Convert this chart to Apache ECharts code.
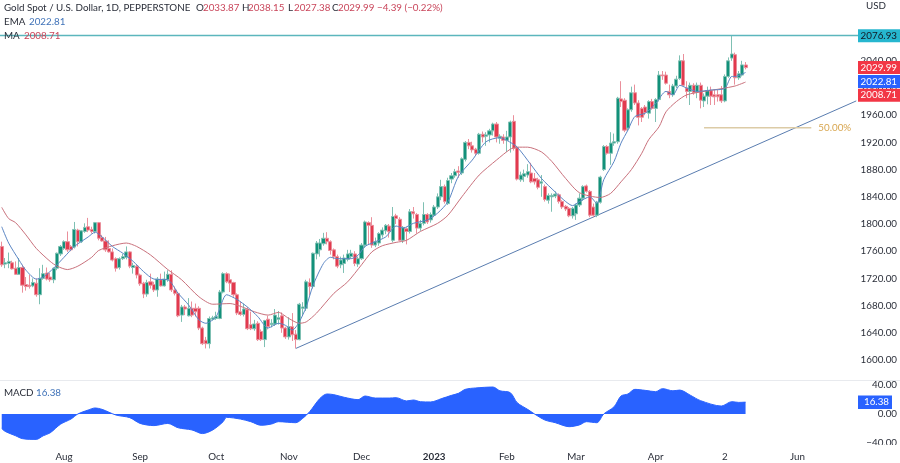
<!DOCTYPE html>
<html><head><meta charset="utf-8">
<style>html,body{margin:0;padding:0;background:#fff}#c{width:900px;height:463px}</style>
<script src="https://cdn.jsdelivr.net/npm/echarts@6/dist/echarts.min.js"></script>
</head><body><div id="c"></div>
<script>
// [open, close, low, high]
const candles = [
[1767,1740,1737,1774],[1741,1743,1735,1750],[1742,1745,1735,1758],[1743,1734,1733,1746],[1735,1726,1725,1745],[1726,1736,1725,1750],[1736,1710,1699,1740],[1711,1708,1702,1722],[1710,1708,1705,1725],[1709,1714,1707,1720],
[1713,1696,1693,1720],[1696,1720,1682,1735],[1720,1727,1718,1740],[1728,1719,1717,1736],[1722,1718,1715,1728],[1718,1735,1713,1736],[1735,1757,1732,1758],[1756,1767,1753,1769],[1764,1774,1762,1776],[1774,1762,1759,1789],
[1767,1762,1760,1769],[1766,1792,1764,1803],[1791,1774,1767,1793],[1774,1790,1772,1791],[1789,1795,1787,1801],[1796,1791,1788,1809],[1792,1789,1786,1796],[1789,1802,1786,1803],[1802,1779,1776,1803],[1780,1775,1774,1784],
[1775,1762,1759,1781],[1764,1759,1758,1776],[1759,1747,1745,1764],[1749,1735,1730,1751],[1736,1749,1733,1751],[1749,1752,1747,1756],[1751,1759,1748,1767],[1759,1738,1735,1760],[1736,1739,1727,1743],[1738,1725,1720,1740],
[1725,1712,1709,1727],[1713,1697,1691,1715],[1697,1714,1693,1718],[1715,1710,1705,1727],[1711,1703,1700,1715],[1703,1719,1693,1722],[1718,1709,1708,1727],[1709,1719,1708,1730],[1718,1726,1715,1732],[1726,1703,1700,1732],
[1703,1698,1695,1708],[1698,1665,1663,1700],[1666,1678,1656,1681],[1678,1675,1666,1681],[1665,1676,1664,1691],[1676,1666,1663,1686],[1676,1671,1664,1683],[1676,1647,1644,1679],[1647,1624,1622,1649],[1629,1624,1617,1634],
[1624,1661,1617,1664],[1660,1662,1658,1665],[1661,1664,1659,1671],[1661,1700,1660,1703],[1700,1727,1698,1729],[1727,1715,1713,1729],[1718,1713,1700,1727],[1714,1696,1693,1715],[1696,1669,1666,1698],[1671,1667,1665,1686],
[1667,1675,1664,1683],[1674,1646,1644,1678],[1652,1646,1644,1671],[1646,1653,1643,1659],[1654,1630,1628,1657],[1642,1630,1628,1645],[1630,1658,1619,1659],[1660,1649,1645,1665],[1652,1654,1648,1660],[1653,1666,1650,1675],
[1660,1662,1652,1672],[1665,1647,1640,1670],[1647,1634,1631,1649],[1634,1649,1630,1663],[1649,1637,1628,1669],[1638,1630,1617,1644],[1630,1682,1629,1684],[1676,1678,1665,1685],[1676,1715,1672,1718],[1714,1708,1695,1720],
[1708,1757,1705,1758],[1756,1772,1748,1775],[1762,1772,1752,1778],[1771,1779,1768,1787],[1779,1774,1770,1788],[1774,1761,1755,1776],[1762,1752,1748,1764],[1752,1738,1735,1755],[1740,1747,1735,1752],[1742,1750,1728,1755],
[1748,1756,1745,1762],[1752,1757,1750,1762],[1756,1742,1738,1760],[1741,1749,1737,1752],[1749,1769,1747,1772],[1769,1803,1765,1805],[1802,1798,1770,1804],[1798,1769,1765,1810],[1769,1774,1766,1780],[1772,1786,1768,1788],
[1784,1791,1780,1795],[1790,1798,1785,1800],[1797,1789,1780,1800],[1776,1811,1773,1825],[1812,1808,1800,1815],[1807,1776,1775,1810],[1776,1795,1772,1797],[1793,1789,1770,1795],[1789,1818,1786,1822],[1818,1815,1808,1825],
[1814,1794,1786,1816],[1794,1801,1790,1806],[1801,1814,1798,1832],[1814,1803,1800,1816],[1806,1814,1802,1817],[1813,1825,1810,1828],[1825,1840,1822,1845],[1840,1855,1835,1865],[1855,1833,1830,1858],[1830,1864,1828,1868],
[1866,1871,1860,1875],[1871,1877,1868,1881],[1878,1876,1868,1885],[1875,1896,1872,1898],[1895,1920,1892,1922],[1920,1915,1910,1925],[1915,1909,1905,1921],[1910,1904,1900,1912],[1904,1932,1902,1934],[1932,1928,1920,1936],
[1929,1931,1915,1935],[1931,1937,1920,1940],[1937,1947,1930,1949],[1947,1928,1920,1950],[1926,1929,1918,1932],[1928,1923,1918,1932],[1923,1928,1906,1937],[1928,1950,1905,1952],[1951,1911,1908,1960],[1912,1866,1864,1915],
[1865,1872,1862,1877],[1870,1874,1862,1880],[1872,1877,1868,1888],[1875,1862,1860,1890],[1867,1862,1858,1875],[1865,1854,1851,1868],[1860,1862,1840,1872],[1855,1836,1833,1858],[1835,1842,1830,1845],[1840,1842,1818,1845],
[1841,1844,1838,1848],[1843,1833,1830,1845],[1833,1825,1822,1835],[1826,1822,1819,1828],[1823,1812,1810,1825],[1812,1823,1808,1825],[1815,1828,1806,1830],[1828,1838,1825,1845],[1838,1855,1834,1857],[1856,1848,1846,1858],
[1848,1813,1810,1850],[1825,1813,1810,1830],[1813,1832,1810,1834],[1832,1869,1830,1871],[1880,1914,1878,1916],[1914,1904,1902,1916],[1904,1919,1887,1935],[1919,1921,1915,1933],[1921,1985,1918,1987],[1984,1980,1972,2010],
[1982,1938,1935,1985],[1941,1968,1937,1970],[1968,1993,1965,2002],[1993,1978,1975,2005],[1978,1957,1945,1982],[1970,1957,1950,1972],[1972,1964,1960,1975],[1963,1980,1955,1982],[1980,1970,1968,1984],[1970,1983,1950,1985],
[1983,2019,1980,2025],[2019,2018,2012,2025],[2019,2007,2005,2024],[1995,1990,1985,2005],[1990,2003,1987,2006],[2003,2013,2000,2018],[2014,2040,2012,2048],[2040,2004,2002,2050],[2000,1995,1985,2010],[1995,2004,1975,2008],
[2004,1993,1990,2007],[1994,2004,1985,2008],[2004,1982,1970,2008],[1981,1988,1972,1992],[1988,1996,1976,2002],[1996,1988,1975,2002],[1990,1987,1975,1998],[1990,1987,1980,1997],[1990,1981,1978,2003],[1981,2017,1979,2020],
[2017,2040,2015,2045],[2044,2050,2040,2076.93],[2049,2015,2005,2052],[2015,2021,2012,2025],[2019,2034,2017,2040],[2033.87,2029.99,2027.38,2038.15]
];
const maPoints = [[0,1824.5],[2,1808],[4,1802],[7,1784],[10,1764],[14,1745],[16,1738],[19,1733],[22,1738],[26,1751],[28,1761],[32,1768],[36,1772],[39,1767],[43,1754.5],[48,1733],[52,1718],[57,1693],[61,1682],[66,1683],[69,1679],[73,1671],[77,1666],[80,1670],[83,1661],[86,1654],[88,1656],[91,1669],[96,1698],[100,1715],[104,1740],[107,1759],[110,1768],[114,1773],[117,1776],[121,1789],[126,1801],[129,1813],[133,1840],[138,1872],[143,1894],[147,1910],[149,1913],[152,1913],[156,1906],[159,1892],[163,1867],[167,1846],[173,1839],[176,1845],[179,1862],[182,1880],[185,1904],[187,1924],[190,1943],[192,1965],[195,1980],[198,1990],[203,1995],[208,1999],[212,2003],[215,2008.71]];
const emaPoints = [[0,1796],[2,1772],[5,1747],[7,1732],[10,1719],[12,1722],[15,1735],[18,1751],[21,1767],[25,1781],[27,1788],[29,1781],[32,1767],[35,1757],[38,1745],[41,1730],[44,1719],[48,1718],[51,1698],[54,1681],[57,1659],[59,1654],[62,1664],[65,1696],[68,1689],[71,1678],[74,1664],[77,1647],[80,1654],[82,1651],[84,1644],[86,1656],[88,1678],[90,1710],[93,1742],[95,1751],[97,1749],[101,1749],[103,1754],[105,1767],[108,1774],[111,1781],[114,1797],[116,1794],[119,1801],[123,1806],[126,1816],[129,1833],[132,1870],[136,1894],[140,1921],[144,1927],[146,1923],[149,1913],[153,1887],[156,1867],[160,1847],[163,1833],[165,1827],[167,1833],[170,1840],[172,1830],[174,1865],[177,1892],[179,1919],[181,1938],[183,1958],[186,1963],[189,1977],[192,1995],[194,1990],[196,2004],[198,2000],[201,1995],[205,1997],[209,1999.5],[211,2017],[212,2017],[215,2022.81]];
const macdPoints = [[0,-20],[1,-24],[4,-30],[6,-34],[10,-35],[12,-30],[14,-26],[17,-14],[20,-7],[22,0],[25,5.5],[27,8.3],[29,6.4],[33,-1.4],[37,-5],[40,-13],[44,-16],[48,-13],[51,-19],[55,-22],[58,-27],[61,-22],[64,-10.6],[65,-4.6],[69,-7],[72,-10.6],[75,-15.6],[78,-13.8],[80,-10.6],[85,-12],[87,-6],[89,3.2],[92,21.6],[94,27.6],[96,26.7],[99,23],[103,19.8],[105,24.8],[108,22],[112,22],[114,22.5],[117,18],[119,19.3],[121,17],[124,16.6],[127,21],[130,25.7],[132,28.5],[134,34],[137,35.9],[142,37.2],[144,32],[147,29.4],[149,15.6],[152,6.4],[154,0],[157,-8.3],[160,-12],[164,-17.5],[167,-15],[169,-10.6],[172,-12],[174,0],[177,10],[179,24.8],[181,27.6],[183,34],[186,32.6],[189,30.8],[191,35],[194,32],[196,33],[199,26],[202,18.4],[208,11],[211,17],[213,16],[215,16.38]];
const trendPoints = [[85,1617],[247,1981]];
const fibPoints = [[203,1941.6],[234,1941.6]];
const fibLabel = '50.00%';
const highLevel = 2076.93;
const tickIndex = [18,40,62,83,104,125,146,166,189,209,230];
const tickLabel = ['Aug','Sep','Oct','Nov','Dec','2023','Feb','Mar','Apr','2','Jun'];
const barCount = 248;
const categories = Array.from({length:barCount},(_,i)=>String(i));
const priceFlags = [2076.93,2029.99,2022.81,2008.71];
const priceFlagFill = ['#26b6cf','#f23645','#2962ff','#f23645'];
const priceFlagText = ['#131722','#fff','#fff','#fff'];
const macdFlag = 16.38;

const FONT = 'Lato', FS = 9.8;
const TXT = '#2a2e39', RED='#c9455a', BLUE='#3f72b8';
const chart = echarts.init(document.getElementById('c'),null,{renderer:'canvas'});

function flagItem(y,fill,color,text,w){
  return {type:'group',children:[
    {type:'rect',shape:{x:858,y:y-6.5,width:w,height:13},style:{fill},z2:10},
    {type:'text',style:{x:897,y:y,text,fill:color,fontFamily:FONT,fontSize:FS,textAlign:'right',textVerticalAlign:'middle'},z2:11}
  ]};
}
let lastY=-99;
function legendText(x,y,text,fill){return {type:'text',left:x,top:y-6,style:{text,fill,fontFamily:FONT,fontSize:FS},z:50};}

chart.setOption({
  animation:false,backgroundColor:'#fff',
  grid:[{left:0,width:858,top:6.4,height:353.6},{left:0,width:858,top:385,height:58}],
  xAxis:[
    {type:'category',gridIndex:0,data:categories,show:false,boundaryGap:true},
    {type:'category',gridIndex:1,data:categories,boundaryGap:true,axisLine:{show:false},axisTick:{show:false},splitLine:{show:false},
      axisLabel:{interval:(i)=>tickIndex.includes(i),margin:9,color:TXT,fontFamily:FONT,fontSize:FS,
        formatter:(v)=>{const k=tickIndex.indexOf(+v);const s=tickLabel[k];return s==='2023'?'{b|2023}':s;},
        rich:{b:{fontWeight:'bold',color:TXT,fontFamily:FONT,fontSize:FS}}}}
  ],
  yAxis:[
    {type:'value',gridIndex:0,position:'right',min:1600,max:2120,interval:40,axisLine:{show:false},axisTick:{show:false},splitLine:{show:false},
      axisLabel:{align:'right',margin:39,color:TXT,fontFamily:FONT,fontSize:FS,formatter:v=>v>2040?'':v.toFixed(2)}},
    {type:'value',gridIndex:1,position:'right',min:-40,max:40,interval:40,axisLine:{show:false},axisTick:{show:false},splitLine:{show:false},
      axisLabel:{align:'right',margin:39,color:TXT,fontFamily:FONT,fontSize:FS,formatter:v=>(v<0?'\u2212'+(-v).toFixed(2):v.toFixed(2))}}
  ],
  series:[
    {type:'line',name:'Trend',data:trendPoints,showSymbol:false,symbol:'none',lineStyle:{color:'#5a7db0',width:1},silent:true,z:3,
     markLine:{silent:true,symbol:'none',label:{show:false},lineStyle:{color:'#5cb6bd',width:1.3,type:'solid'},data:[{yAxis:highLevel}]}},
    {type:'line',name:'Fib',data:fibPoints,showSymbol:false,symbol:'none',lineStyle:{color:'#dccba6',width:1.5},silent:true,z:3,
     endLabel:{show:true,distance:7,formatter:fibLabel,color:'#d8a650',fontFamily:FONT,fontSize:FS}},
    {type:'candlestick',name:'Gold',data:candles,barWidth:3.6,z:4,silent:true,
     itemStyle:{color:'#12917a',color0:'#e23a4e',borderColor:'#7fc0b3',borderColor0:'#ea8f9b',borderWidth:1}},
    {type:'line',name:'MA',data:maPoints,smooth:0.25,showSymbol:false,symbol:'none',lineStyle:{color:'#c9717c',width:1},silent:true,z:5},
    {type:'line',name:'EMA',data:emaPoints,smooth:0.25,showSymbol:false,symbol:'none',lineStyle:{color:'#5b86c4',width:1},silent:true,z:6},
    {type:'line',name:'MACD',xAxisIndex:1,yAxisIndex:1,data:macdPoints,smooth:0.3,showSymbol:false,symbol:'none',lineStyle:{color:'#2962ff',width:1},areaStyle:{color:'#2962ff',opacity:1},silent:true,z:3},
    {type:'custom',name:'PriceFlags',xAxisIndex:0,yAxisIndex:0,z:20,silent:true,clip:false,data:priceFlags.map((v,i)=>[0,v,i]),
     encode:{x:0,y:1},
     renderItem:(p,api)=>{
       const i=api.value(2),v=api.value(1);
       let y=api.coord([0,v])[1];
       if(i===0)lastY=-99;
       if(y<lastY+13.8)y=lastY+13.8;
       lastY=y;
       return flagItem(y,priceFlagFill[i],priceFlagText[i],v.toFixed(2),42);
     }},
    {type:'custom',name:'MacdFlag',xAxisIndex:1,yAxisIndex:1,z:20,silent:true,clip:false,data:[[0,macdFlag]],encode:{x:0,y:1},
     renderItem:(p,api)=>{const v=api.value(1);const y=api.coord([0,v])[1];
       return {type:'group',children:[
        {type:'rect',shape:{x:858,y:y-6.5,width:34,height:13.5},style:{fill:'#2962ff'}},
        {type:'text',style:{x:889,y:y,text:v.toFixed(2),fill:'#fff',fontFamily:FONT,fontSize:FS,textAlign:'right',textVerticalAlign:'middle'}}]};}}
  ],
  graphic:[
    {type:'rect',left:858,top:445,shape:{width:42,height:18},style:{fill:'#fff'},z:40},
    {type:'line',shape:{x1:0,y1:380.5,x2:900,y2:380.5},style:{stroke:'#e8eaee',lineWidth:1},z:30},
    legendText(4,9,'Gold Spot / U.S. Dollar, 1D, PEPPERSTONE',TXT),
    legendText(196,9,'O',TXT),legendText(203,9,'2033.87',RED),
    legendText(242,9,'H',TXT),legendText(248,9,'2038.15',RED),
    legendText(288,9,'L',TXT),legendText(294,9,'2027.38',RED),
    legendText(332,9,'C',TXT),legendText(338,9,'2029.99',RED),
    legendText(377,9,'\u22124.39 (\u22120.22%)',RED),
    legendText(4,23,'EMA',TXT),legendText(29,23,'2022.81',BLUE),
    legendText(4,37,'MA',TXT),legendText(24,37,'2008.71',RED),
    legendText(4,394,'MACD',TXT),legendText(36,394,'16.38',BLUE),
    legendText(866,7,'USD',TXT)
  ]
});
</script></body></html>
